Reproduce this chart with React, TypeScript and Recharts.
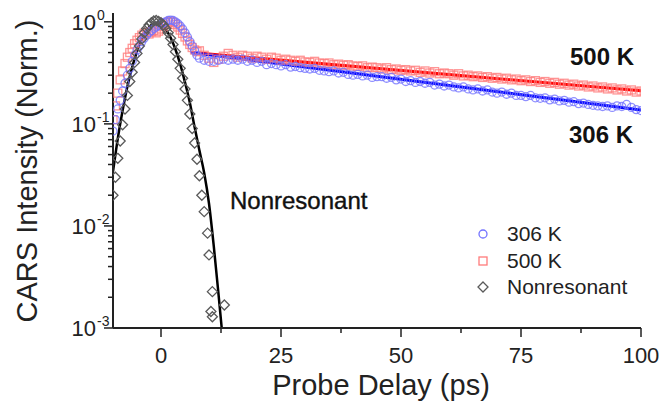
import React from 'react';
import { ComposedChart, XAxis, YAxis, Scatter, Line } from 'recharts';

// delays (ps) for the rising edge, shared by 306 K and 500 K
const riseDelay = [
  -10, -9.5, -9, -8.5, -8, -7.5, -7, -6.5, -6, -5.5, -5, -4.5, -4, -3.5, -3, -2.5, -2, -1.5,
  -1, -0.5, 0, 0.5, 1, 1.5, 2, 2.5, 3, 3.5, 4, 4.5, 5, 5.5, 6, 6.5, 7, 7.5,
];
const blueRise = [
  0.085, 0.11, 0.14, 0.17, 0.21, 0.25, 0.3, 0.35, 0.41, 0.47, 0.53, 0.58, 0.64, 0.69, 0.74, 0.78,
  0.82, 0.86, 0.89, 0.92, 0.95, 0.98, 1.0, 1.03, 1.04, 1.03, 1.0, 0.96, 0.91, 0.85, 0.78, 0.71,
  0.64, 0.58, 0.52, 0.47,
];
const redRise = [
  0.11, 0.15, 0.2, 0.27, 0.33, 0.39, 0.45, 0.5, 0.55, 0.61, 0.66, 0.7, 0.74, 0.77, 0.79, 0.76,
  0.8, 0.82, 0.78, 0.81, 0.85, 0.9, 0.95, 0.99, 1.01, 0.98, 0.94, 0.89, 0.83, 0.77, 0.71, 0.65,
  0.6, 0.56, 0.53, 0.51,
];

// delays (ps) for the slow decay
const decayDelay = [
  8, 9, 10, 11, 12, 13, 14, 15, 16, 17, 18, 19, 20, 21, 22, 23, 24, 25, 26, 27, 28, 29, 30, 31,
  32, 33, 34, 35, 36, 37, 38, 39, 40, 41, 42, 43, 44, 45, 46, 47, 48, 49, 50, 51, 52, 53, 54, 55,
  56, 57, 58, 59, 60, 61, 62, 63, 64, 65, 66, 67, 68, 69, 70, 71, 72, 73, 74, 75, 76, 77, 78, 79,
  80, 81, 82, 83, 84, 85, 86, 87, 88, 89, 90, 91, 92, 93, 94, 95, 96, 97, 98, 99, 100,
];
const blueDecay = [
  0.44, 0.42, 0.41, 0.41, 0.42, 0.43, 0.42, 0.43, 0.42, 0.43, 0.41, 0.42, 0.4, 0.41, 0.38, 0.39,
  0.38, 0.37, 0.38, 0.36, 0.365, 0.355, 0.35, 0.345, 0.35, 0.335, 0.33, 0.325, 0.33, 0.315, 0.32,
  0.305, 0.3, 0.305, 0.295, 0.3, 0.285, 0.29, 0.29, 0.28, 0.285, 0.27, 0.275, 0.26, 0.265, 0.255,
  0.26, 0.25, 0.255, 0.24, 0.245, 0.235, 0.24, 0.23, 0.225, 0.23, 0.22, 0.215, 0.22, 0.21, 0.215,
  0.205, 0.2, 0.205, 0.195, 0.2, 0.19, 0.19, 0.185, 0.19, 0.18, 0.178, 0.18, 0.172, 0.175, 0.168,
  0.17, 0.163, 0.165, 0.158, 0.16, 0.155, 0.152, 0.15, 0.148, 0.15, 0.145, 0.15, 0.148, 0.155,
  0.145, 0.138, 0.135,
];
const redDecay = [
  0.52, 0.47, 0.44, 0.4, 0.43, 0.46, 0.49, 0.47, 0.45, 0.47, 0.46, 0.44, 0.46, 0.45, 0.43, 0.45,
  0.44, 0.42, 0.43, 0.42, 0.41, 0.42, 0.405, 0.4, 0.41, 0.395, 0.39, 0.395, 0.38, 0.385, 0.375,
  0.38, 0.37, 0.365, 0.37, 0.355, 0.36, 0.355, 0.345, 0.355, 0.34, 0.345, 0.335, 0.34, 0.33, 0.335,
  0.32, 0.33, 0.315, 0.325, 0.31, 0.315, 0.31, 0.3, 0.31, 0.295, 0.3, 0.29, 0.295, 0.285, 0.29,
  0.28, 0.285, 0.275, 0.28, 0.27, 0.275, 0.265, 0.27, 0.26, 0.265, 0.255, 0.26, 0.25, 0.255, 0.245,
  0.25, 0.24, 0.245, 0.235, 0.24, 0.23, 0.235, 0.225, 0.23, 0.22, 0.225, 0.215, 0.22, 0.21, 0.215,
  0.205, 0.21,
];

// exponential fits (straight on a log axis)
const fitDelay = [6.3, 100];
const blueFit = [0.5, 0.137];
const redFit = [0.5, 0.211];

// nonresonant signal
const nrDelay = [
  -10, -9.5, -9, -8.5, -8, -7.5, -7, -6.5, -6, -5.5, -5, -4.5, -4, -3.5, -3, -2.5, -2, -1.5, -1,
  -0.5, 0, 0.5, 1, 1.5, 2, 2.5, 3, 3.5, 4, 4.5, 5, 5.5, 6, 6.5, 7, 7.5, 8, 8.5, 9, 9.7, 10, 10.4,
  10.7, 10.7, 13.2,
];
const nrValues = [
  0.02, 0.03, 0.046, 0.068, 0.098, 0.14, 0.19, 0.26, 0.32, 0.4, 0.49, 0.58, 0.68, 0.78, 0.86, 0.93,
  0.98, 1.02, 1.03, 1.01, 0.98, 0.93, 0.86, 0.78, 0.69, 0.6, 0.51, 0.43, 0.35, 0.28, 0.22, 0.17,
  0.125, 0.09, 0.065, 0.045, 0.031, 0.02, 0.0138, 0.0085, 0.0052, 0.00145, 0.00227, 0.00129,
  0.00168,
];
const nrFitDelay = [
  -10, -9, -8, -7, -6, -5, -4, -3, -2, -1, 0, 1, 2, 3, 4, 5, 6, 7, 8, 9, 10, 11, 12, 12.65,
];
const nrFit = [
  0.034, 0.072, 0.135, 0.232, 0.36, 0.515, 0.678, 0.824, 0.929, 0.97, 0.939, 0.842, 0.7, 0.539,
  0.385, 0.255, 0.162, 0.093, 0.055, 0.033, 0.0166, 0.0063, 0.0021, 0.001,
];

const X_TICKS = [0, 12.5, 25, 37.5, 50, 62.5, 75, 87.5, 100];
const Y_TICKS = [
  0.001, 0.002, 0.003, 0.004, 0.005, 0.006, 0.007, 0.008, 0.009,
  0.01, 0.02, 0.03, 0.04, 0.05, 0.06, 0.07, 0.08, 0.09,
  0.1, 0.2, 0.3, 0.4, 0.5, 0.6, 0.7, 0.8, 0.9, 1,
];

const pts = (xs: number[], ys: number[]) => xs.map((x, i) => ({ x, y: ys[i] }));

const blue306 = [...pts(riseDelay, blueRise), ...pts(decayDelay, blueDecay)];
const red500 = [...pts(riseDelay, redRise), ...pts(decayDelay, redDecay)];
const nonres = pts(nrDelay, nrValues);

const FONT = '"Liberation Sans", Arial, sans-serif';
const INK = '#222';
const BLUE_MK = '#7373ff';
const RED_MK = '#ff7b7b';
const GREY_MK = '#5a5a5a';

const circle = (p: any) => (
  <circle cx={p.cx} cy={p.cy} r={4} fill="none" stroke={BLUE_MK} strokeWidth={1.3} strokeOpacity={0.8} />
);
const square = (p: any) => (
  <rect x={p.cx - 4} y={p.cy - 4} width={8} height={8} fill="none" stroke={RED_MK} strokeWidth={1.3} strokeOpacity={0.8} />
);
const diamond = (p: any) => (
  <path
    d={`M${p.cx},${p.cy - 5} L${p.cx + 5},${p.cy} L${p.cx},${p.cy + 5} L${p.cx - 5},${p.cy} Z`}
    fill="none"
    stroke={GREY_MK}
    strokeWidth={1.3}
  />
);

function XTick({ x, y, payload }: any) {
  const major = payload.value % 25 === 0;
  return (
    <g>
      <line x1={x} x2={x} y1={y} y2={y + (major ? 9 : 5)} stroke={INK} strokeWidth={1.5} />
      {major && (
        <text x={x} y={y + 35} textAnchor="middle" fontSize={22} fontFamily={FONT} fill={INK}>
          {payload.value}
        </text>
      )}
    </g>
  );
}

function YTick({ x, y, payload }: any) {
  const exp = Math.round(Math.log10(payload.value));
  const major = Math.abs(payload.value - Math.pow(10, exp)) < 1e-9;
  return (
    <g>
      <line x1={x - (major ? 9 : 5)} x2={x} y1={y} y2={y} stroke={INK} strokeWidth={1.5} />
      {major && (
        <>
          <text x={x - 17} y={y + 8} textAnchor="end" fontSize={22} fontFamily={FONT} fill={INK}>
            10
          </text>
          <text x={x - 16} y={y - 2} textAnchor="start" fontSize={14} fontFamily={FONT} fill={INK}>
            {exp === 0 ? '0' : `-${-exp}`}
          </text>
        </>
      )}
    </g>
  );
}

export default function App() {
  return (
    <div style={{ position: 'absolute', left: 0, top: 0, width: 662, height: 408, background: '#fff' }}>
      <ComposedChart width={662} height={408} margin={{ top: 13, right: 21, bottom: 0, left: 0 }}>
        <XAxis
          type="number"
          dataKey="x"
          domain={[-10, 100]}
          ticks={X_TICKS}
          interval={0}
          allowDataOverflow
          height={80}
          tickSize={0}
          tickMargin={0}
          tickLine={false}
          axisLine={{ stroke: INK, strokeWidth: 2 }}
          tick={<XTick />}
        />
        <YAxis
          type="number"
          dataKey="y"
          scale="log"
          domain={[0.001, 1.22]}
          ticks={Y_TICKS}
          interval={0}
          allowDataOverflow
          width={113}
          tickSize={0}
          tickMargin={0}
          tickLine={false}
          axisLine={{ stroke: INK, strokeWidth: 2 }}
          tick={<YTick />}
        />
        <Scatter data={red500} dataKey="y" shape={square} isAnimationActive={false} />
        <Scatter data={blue306} dataKey="y" shape={circle} isAnimationActive={false} />
        <Scatter data={nonres} dataKey="y" shape={diamond} isAnimationActive={false} />
        <Line data={pts(fitDelay, redFit)} dataKey="y" type="linear" stroke="#ff0000" strokeWidth={3} dot={false} isAnimationActive={false} />
        <Line data={pts(fitDelay, blueFit)} dataKey="y" type="linear" stroke="#0000ff" strokeWidth={3} dot={false} isAnimationActive={false} />
        <Line data={pts(nrFitDelay, nrFit)} dataKey="y" type="monotone" stroke="#000" strokeWidth={2.5} dot={false} isAnimationActive={false} />
      </ComposedChart>

      <svg width={662} height={408} style={{ position: 'absolute', left: 0, top: 0, pointerEvents: 'none' }} fontFamily={FONT}>
        <text x={381} y={395} textAnchor="middle" fontSize={29} fill={INK}>Probe Delay (ps)</text>
        <text transform="translate(37,171) rotate(-90)" textAnchor="middle" fontSize={29} fill={INK}>
          CARS Intensity (Norm.)
        </text>

        <text x={602} y={65} textAnchor="middle" fontSize={24} fontWeight="bold" fill="#111">500 K</text>
        <text x={601} y={143} textAnchor="middle" fontSize={24} fontWeight="bold" fill="#111">306 K</text>
        <text x={230} y={209} fontSize={24} fill="#111" stroke="#111" strokeWidth={0.4}>Nonresonant</text>

        <circle cx={483} cy={234} r={4} fill="none" stroke={BLUE_MK} strokeWidth={1.3} />
        <text x={507} y={241} fontSize={21} fill={INK}>306 K</text>
        <rect x={479} y={257} width={8} height={8} fill="none" stroke={RED_MK} strokeWidth={1.3} />
        <text x={507} y={268} fontSize={21} fill={INK}>500 K</text>
        <path d="M483,282 L488,287 L483,292 L478,287 Z" fill="none" stroke={GREY_MK} strokeWidth={1.3} />
        <text x={507} y={294} fontSize={21} fill={INK}>Nonresonant</text>
      </svg>
    </div>
  );
}
